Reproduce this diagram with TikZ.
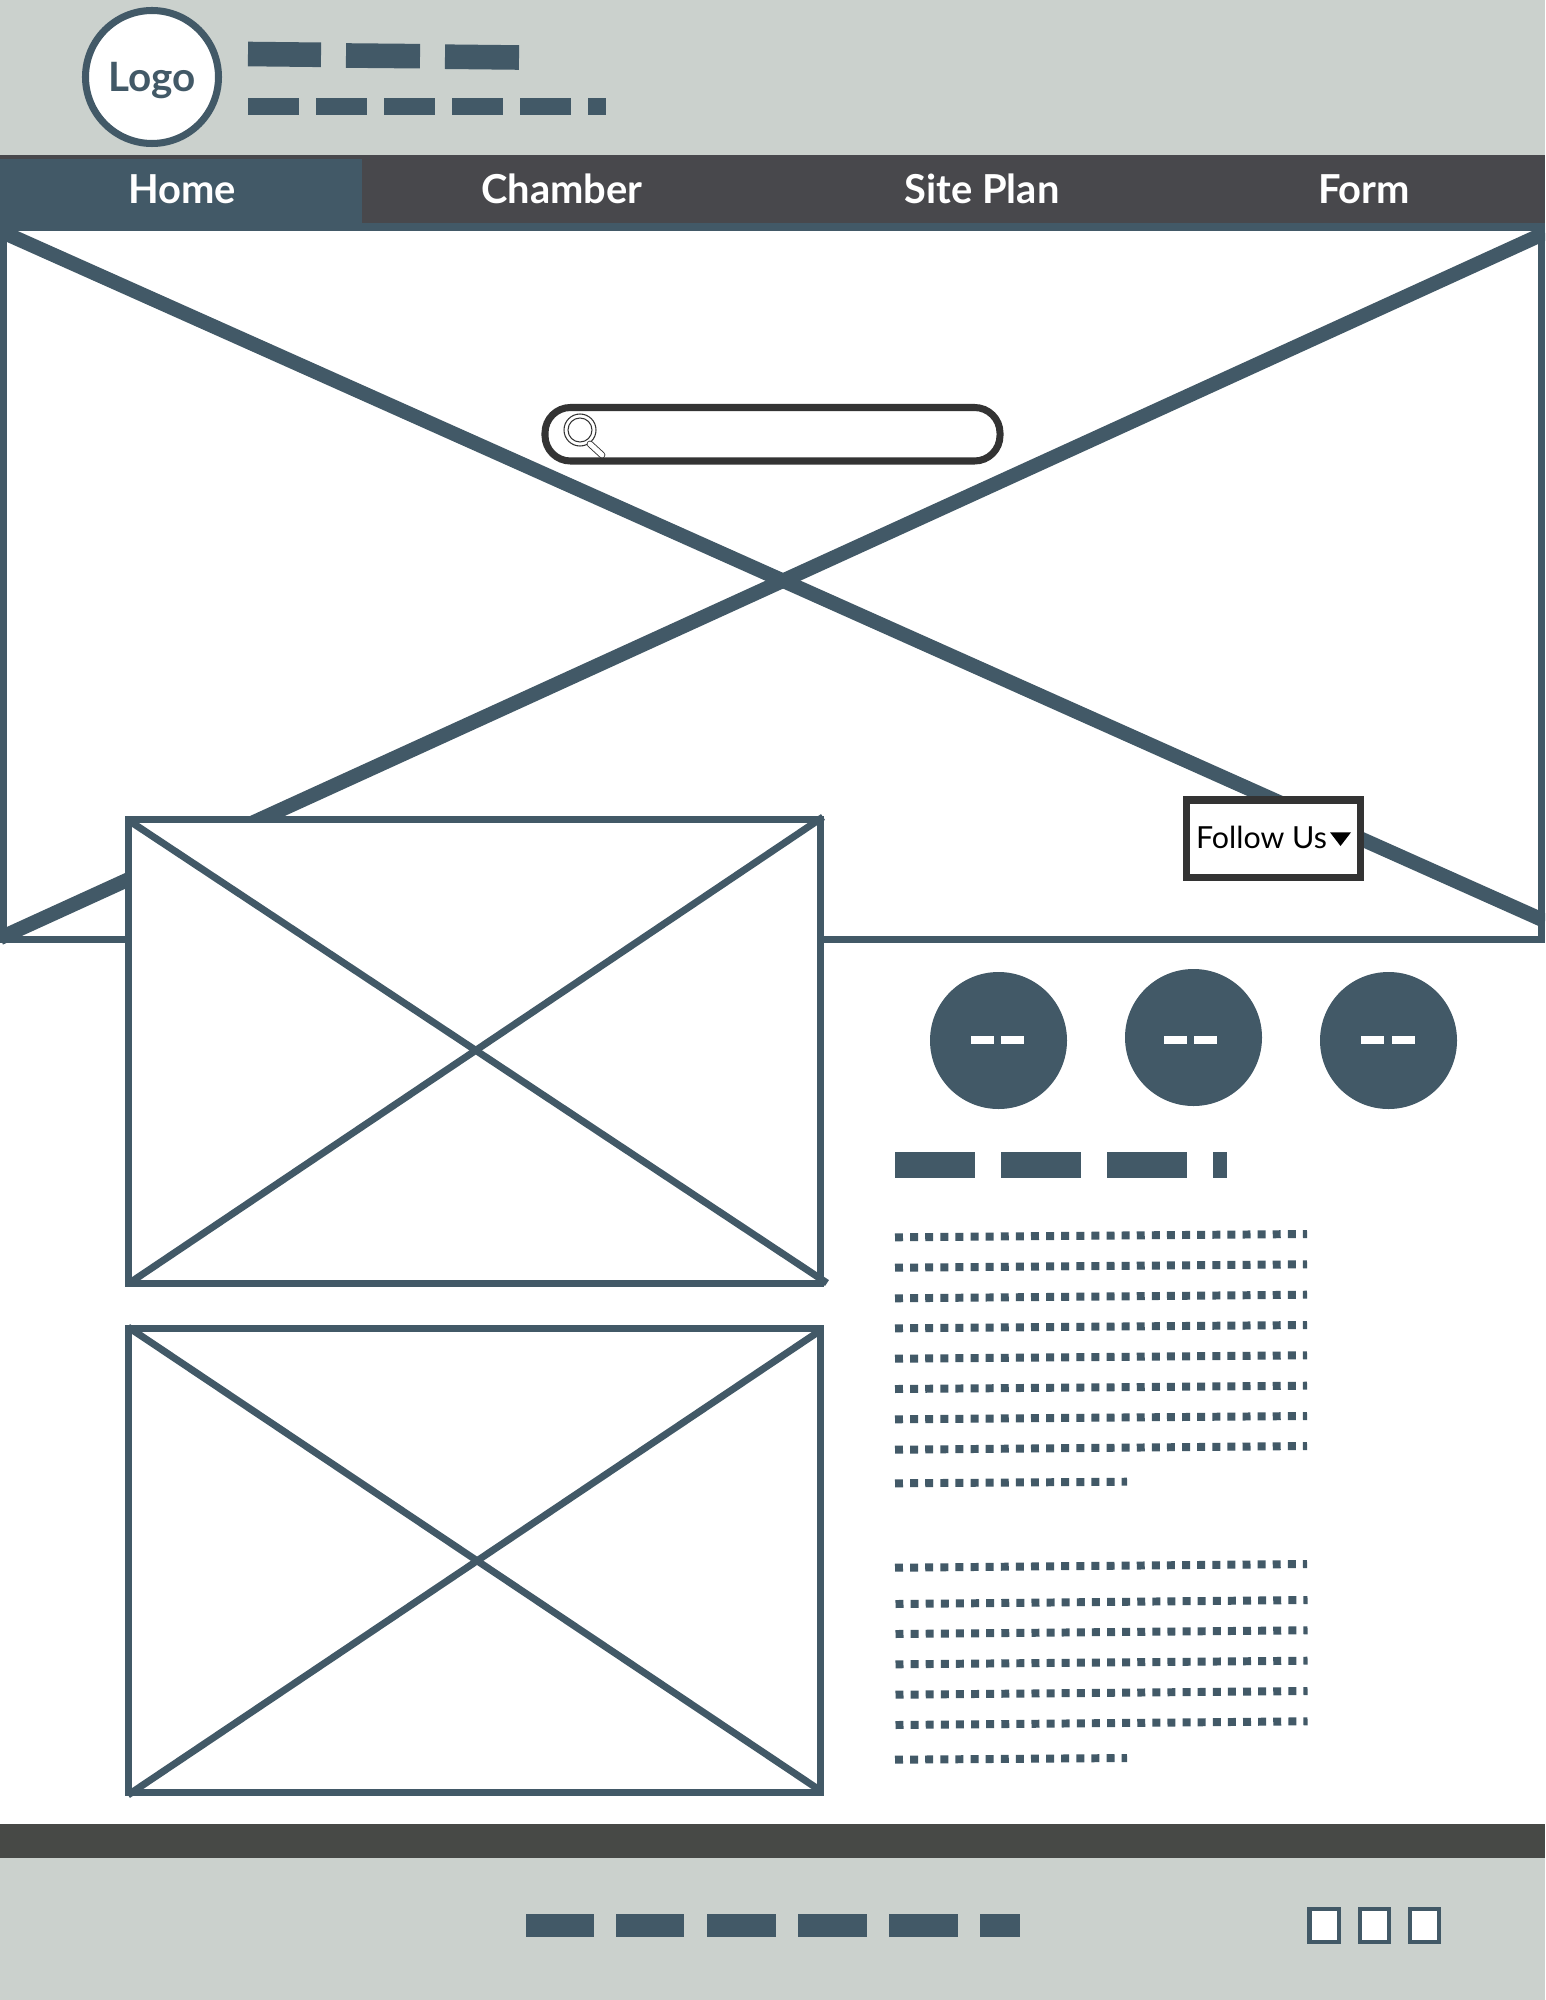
\documentclass[tikz,border=0pt]{standalone}
\usepackage{fontspec}
\setmainfont{Lato}
\definecolor{mainblue}{HTML}{425967}
\definecolor{headgrey}{HTML}{CBD1CD}
\definecolor{navdark}{HTML}{48484C}
\definecolor{footdark}{HTML}{474946}
\definecolor{boxdark}{HTML}{333333}
\tikzset{
  bar/.style={fill=mainblue},
  whitebar/.style={fill=white},
  slantbar/.style={draw=mainblue, line width=14pt},
  frame/.style={draw=mainblue, fill=white, line width=4pt},
  framecross/.style={draw=mainblue, line width=4pt},
  herocross/.style={draw=mainblue, line width=8.2pt},
  dotrow/.style={draw=mainblue, line width=4.54pt, dash pattern=on 4.54pt off 4.06pt},
  smallbox/.style={draw=mainblue, fill=white, line width=2.4pt},
  navlabel/.style={text=white, anchor=base, font=\fontsize{22.7}{27}\selectfont\bfseries}
}
\begin{document}
\begin{tikzpicture}[x=0.02cm, y=-0.02cm]
    \path[use as bounding box, clip] (0,0) rectangle (1545,2000);
    \fill[white] (0,0) rectangle (1545,2000);

    % header
    \fill[headgrey] (0,0) rectangle (1545,155);

    % logo
    \draw[draw=mainblue, fill=white, line width=4pt] (152,77) circle (66.5);
    \node[text=mainblue, anchor=base, font=\fontsize{23}{27}\selectfont\bfseries] (logolabel) at (152.5,92) {Logo};

    % title bars
    \draw[slantbar] (248,54) -- (321,54.8);
    \draw[slantbar] (346,55.5) -- (420,56.2);
    \draw[slantbar] (445,56.7) -- (519,57.5);

    % subtitle bars
    \fill[bar] (248,98) rectangle (299,115);
    \fill[bar] (316,98) rectangle (367,115);
    \fill[bar] (384,98) rectangle (435,115);
    \fill[bar] (452,98) rectangle (503,115);
    \fill[bar] (520,98) rectangle (571,115);
    \fill[bar] (588,98) rectangle (606,115);

    % nav
    \fill[navdark] (0,155) rectangle (1545,225);
    \fill[mainblue] (0,159) rectangle (362,225);
    \node[navlabel] (navhome) at (182,204) {Home};
    \node[navlabel] (navchamber) at (562,204) {Chamber};
    \node[navlabel] (navplan) at (982,204) {Site Plan};
    \node[navlabel] (navform) at (1364,204) {Form};

    % hero
    \draw[draw=mainblue, fill=white, line width=4.25pt] (3.5,227) rectangle (1541.5,939.5);
    \draw[herocross] (0,231) -- (1545,921);
    \draw[herocross] (0,938) -- (1545,233);

    % search
    \draw[draw=boxdark, fill=white, line width=4pt, rounded corners=14.5pt] (545,407.5) rectangle (1000,461);
    \draw[boxdark, line width=0.6pt] (580,430) circle (16);
    \draw[boxdark, line width=0.6pt] (580,430) circle (12);
    \draw[boxdark, line width=3.8pt, line cap=round] (590,444) -- (602,455);
    \draw[white, line width=2.8pt, line cap=round] (590,444) -- (602,455);

    % follow
    \draw[draw=boxdark, fill=white, line width=4pt] (1186,800) rectangle (1360,877.5);
    \node[text=black, anchor=base, font=\fontsize{17.3}{21}\selectfont] (followlabel) at (1261.5,848) {Follow Us};
    \fill[black] (1330,832.3) -- (1351,832.3) -- (1340.5,846) -- cycle;

    % frame 1
    \draw[frame] (128.5,819.5) rectangle (820.5,1283.5);
    \draw[framecross] (128,820) -- (827,1283);
    \draw[framecross] (128,1284) -- (823,817);

    % frame 2
    \draw[frame] (128.5,1328.5) rectangle (820.5,1792.5);
    \draw[framecross] (128,1327) -- (821,1791);
    \draw[framecross] (128,1795) -- (821,1330);

    % circle 1
    \fill[mainblue] (998.5,1040.5) circle (68.5);
    \fill[whitebar] (971,1036.3) rectangle (994,1044.3);
    \fill[whitebar] (1001,1036.3) rectangle (1024,1044.3);

    % circle 2
    \fill[mainblue] (1193.5,1037.5) circle (68.5);
    \fill[whitebar] (1164,1036.3) rectangle (1187,1044.3);
    \fill[whitebar] (1194,1036.3) rectangle (1217,1044.3);

    % circle 3
    \fill[mainblue] (1388.5,1040.5) circle (68.5);
    \fill[whitebar] (1361,1036.3) rectangle (1384,1044.3);
    \fill[whitebar] (1392,1036.3) rectangle (1415,1044.3);

    % heading bars
    \fill[bar] (895.3,1152) rectangle (975,1178);
    \fill[bar] (1001,1152) rectangle (1081,1178);
    \fill[bar] (1107,1152) rectangle (1187,1178);
    \fill[bar] (1213,1152) rectangle (1226.7,1178);

    % paragraph 1
    \draw[dotrow] (895,1237.3) -- (1307,1234);
    \draw[dotrow] (895,1267.7) -- (1307,1264.3);
    \draw[dotrow] (895,1298.3) -- (1307,1294.7);
    \draw[dotrow] (895,1328.3) -- (1307,1325);
    \draw[dotrow] (895,1358.7) -- (1307,1355.3);
    \draw[dotrow] (895,1389) -- (1307,1385.7);
    \draw[dotrow] (895,1419.3) -- (1307,1416);
    \draw[dotrow] (895,1449.7) -- (1307,1446);
    \draw[dotrow] (895,1483.3) -- (1127,1481.7);

    % paragraph 2
    \draw[dotrow] (895,1567.7) -- (1307,1564);
    \draw[dotrow] (895.5,1604) -- (1307.5,1600);
    \draw[dotrow] (895.5,1634) -- (1307.5,1630.3);
    \draw[dotrow] (895.5,1664.3) -- (1307.5,1660.7);
    \draw[dotrow] (895.5,1694.7) -- (1307.5,1691);
    \draw[dotrow] (895.5,1725) -- (1307.5,1721.3);
    \draw[dotrow] (895,1759.7) -- (1127,1758);

    % footer
    \fill[footdark] (0,1824) rectangle (1545,1858);
    \fill[headgrey] (0,1858) rectangle (1545,2000);

    % footer bars
    \fill[bar] (525.5,1914) rectangle (593.5,1937);
    \fill[bar] (616,1914) rectangle (684,1937);
    \fill[bar] (707,1914) rectangle (775.5,1937);
    \fill[bar] (798,1914) rectangle (866.5,1937);
    \fill[bar] (889,1914) rectangle (957.5,1937);
    \fill[bar] (980,1914) rectangle (1020,1937);

    % footer boxes
    \draw[smallbox] (1309.5,1909) rectangle (1339,1942);
    \draw[smallbox] (1360,1909) rectangle (1389,1942);
    \draw[smallbox] (1410,1909) rectangle (1439,1942);
\end{tikzpicture}
\end{document}
